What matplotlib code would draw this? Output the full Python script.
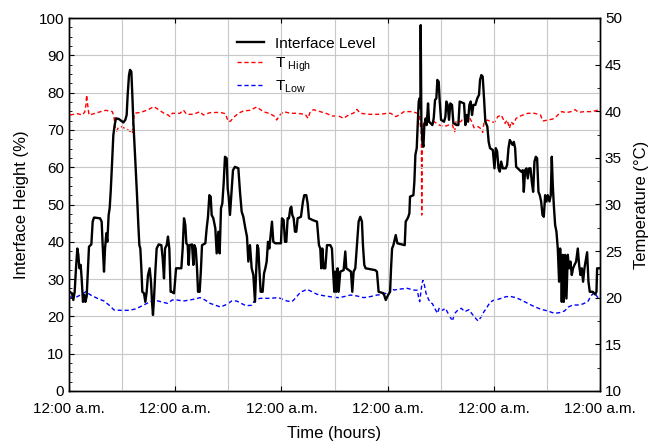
import matplotlib
matplotlib.use('Agg')
import matplotlib.pyplot as plt
from matplotlib.ticker import MultipleLocator

plt.rcParams['font.family'] = ['Liberation Sans', 'DejaVu Sans']
plt.rcParams['mathtext.fontset'] = 'custom'
plt.rcParams['mathtext.rm'] = 'Liberation Sans'

# ---- data --------------------------------------------------------------
# interface level (%) vs time (hours)
level_hours = [0.23, 0.68, 0.98, 1.28, 1.58, 1.88, 2.11, 2.34, 2.64, 2.86, 3.16, 3.47, 3.69, 3.99,
               4.29, 4.52, 5.05, 5.35, 5.65, 7.01, 7.38, 7.61, 7.91, 8.14, 8.44, 8.66, 8.96, 9.19,
               9.42, 9.64, 9.87, 10.02, 10.32, 10.62, 11.3, 11.83, 12.28, 12.73, 13.03, 13.26, 13.56,
               13.79, 14.09, 14.31, 14.54, 14.76, 15.07, 15.37, 15.67, 15.9, 16.12, 16.35, 16.57,
               16.95, 17.25, 17.55, 17.85, 18.23, 18.53, 18.76, 18.98, 19.21, 19.51, 19.81, 20.26,
               20.87, 21.17, 21.47, 21.7, 22.07, 22.37, 22.67, 22.97,
               23.2, 23.73, 23.96, 24.19, 25.39, 25.69, 25.99, 26.29, 26.52, 26.82, 27.05, 27.27,
               27.8, 28.1, 28.33, 28.63, 28.93, 29.16, 29.53, 29.83, 30.06, 30.81, 31.11, 31.41,
               31.72, 32.02, 32.24, 32.62, 33.07, 33.37, 33.75, 34.05, 34.35, 34.65, 34.95, 35.25,
               35.63, 35.86, 36.08, 36.38, 36.69, 37.06, 37.51, 38.27, 38.64, 39.02, 39.4, 39.85,
               40.22, 40.53, 40.9, 41.28, 41.66, 42.03, 42.26, 42.56, 42.79, 43.01, 43.31, 43.76,
               44.07, 44.37, 44.67, 44.97, 45.27, 45.57, 45.87, 46.17, 46.63,
               47.9, 48.13, 48.51, 48.81, 49.11, 49.41, 49.71, 50.01, 50.24, 50.46, 50.77, 51.07,
               51.37, 51.67, 52.42, 52.87, 53.17, 53.63, 53.93, 54.23, 55.13, 56.04, 56.49, 56.79,
               57.01, 57.24, 57.54, 57.92, 58.3, 59.05, 59.42, 59.65, 59.95, 60.18, 60.4, 60.7,
               60.93, 61.31, 62.06, 62.44, 62.66, 63.72, 64.02, 64.32, 64.7, 65.07, 65.45, 65.83,
               66.2, 66.43, 66.73, 67.03, 69.21, 69.59, 69.97, 71.1,
               71.58, 72.1, 72.56, 72.78, 73.01, 73.31, 73.84, 74.21, 75.87, 76.09, 76.62, 76.92,
               77.07, 77.83, 78.05, 78.28, 78.58, 78.81, 79.03, 79.26, 79.41, 79.48, 79.63, 79.86,
               80.09, 80.31, 80.61, 80.84, 81.14, 81.37, 82.12, 82.42, 82.72, 83.02, 83.25, 83.55,
               83.78, 84.08, 84.75, 85.06, 85.28, 85.58, 85.88, 86.18, 86.56, 86.86, 87.62, 87.99,
               88.29, 89.27, 89.57, 89.87, 90.18, 90.48, 90.78, 91.08, 91.38, 91.83, 92.28, 92.66,
               92.89, 93.19, 93.49, 93.79, 94.09, 94.54, 94.84, 95.15, 95.78, 96.15, 96.45, 96.76,
               97.06, 97.36, 97.66, 98.04, 98.71, 99.01, 99.32, 99.62, 100.22, 100.52, 100.82,
               101.05, 101.42, 102.18, 102.55, 102.78, 103.08, 103.38, 103.68, 103.98, 104.29,
               104.59, 104.89, 105.19, 105.49, 105.79, 106.09, 106.39, 106.7, 107.0, 107.3, 107.6,
               107.9, 108.2, 108.58, 108.88, 109.1, 109.33, 109.56, 109.86, 110.16, 110.46, 110.76,
               110.99, 111.21, 111.36, 111.59, 111.82, 112.12, 112.42, 112.72, 113.02, 113.32,
               113.62, 113.92, 114.23, 114.6, 114.98, 115.28, 115.58, 115.88, 116.18, 116.48,
               116.86, 117.09, 117.39, 117.69, 118.37, 118.89, 119.2, 119.35, 119.87]
level_pct = [26.5, 26.2, 24.4, 26.6, 32.9, 38.2, 36.5, 32.9, 33.8, 30.2, 23.9, 25.7, 23.9, 25.3,
             32.9, 38.7, 39.3, 45.4, 46.5, 46.3, 45.4, 39.1, 32.0, 38.2, 42.3, 40.0, 47.2, 49.0,
             53.4, 58.8, 65.1, 68.6, 71.3, 73.1, 72.9, 72.4, 72.0, 72.7, 74.0, 79.4, 84.7,
             86.1, 85.6, 79.4, 72.2, 66.8, 59.7, 52.5, 44.5, 39.1, 38.2, 32.9, 26.6,
             26.2, 23.9, 26.6, 31.1, 32.9, 29.3, 23.9, 20.4, 24.8, 32.0, 38.2, 39.3,
             39.1, 35.6, 30.2, 38.2, 39.1, 41.4, 38.2, 26.6,
             26.6, 26.2, 29.3, 32.9, 32.9, 38.2, 46.3, 44.5, 39.6, 39.1, 33.8, 39.1,
             39.3, 33.8, 39.1, 38.2, 32.9, 26.6, 26.6, 32.9, 39.1, 39.6, 43.6, 46.7,
             52.5, 52.1, 47.2, 46.3, 43.6, 36.9, 42.7, 36.9, 49.0, 50.3, 55.7, 62.8,
             62.4, 54.3, 52.1, 47.2, 52.5, 59.2, 60.1, 59.7, 53.4, 48.1, 46.7, 43.6,
             41.4, 34.7, 39.1, 32.9, 31.1, 23.9, 31.1, 39.1, 38.2, 32.9, 26.6, 26.6,
             31.5, 32.9, 34.7, 40.0, 38.2, 41.8, 45.4, 40.0, 39.6,
             39.6, 46.3, 45.8, 40.0, 40.0, 46.3, 46.3, 49.0, 49.4, 47.2, 46.3, 42.7,
             42.7, 46.3, 46.7, 50.8, 52.5, 52.5, 50.3, 46.3, 45.8, 45.4, 39.1, 38.2,
             32.9, 38.2, 32.9, 32.9, 39.1, 39.1, 38.2, 32.9, 26.6, 32.0, 26.6, 32.9,
             26.6, 32.0, 32.4, 37.4, 32.9, 32.0, 26.6, 32.0, 32.9, 39.1, 45.4, 46.7,
             45.4, 39.1, 33.8, 32.9, 32.4, 32.0, 26.6, 26.2,
             24.4, 25.7, 26.6, 32.9, 38.2, 39.1, 41.8, 39.6, 39.1, 45.4, 46.5, 47.6,
             52.1, 52.5, 56.1, 63.3, 65.1, 71.3, 77.6, 78.5, 75.8, 98.1, 72.2, 66.8,
             65.5, 71.3, 73.1, 71.3, 77.1, 72.2, 71.3, 73.1, 78.0, 78.5, 83.4, 82.9,
             77.6, 72.7, 72.2, 73.5, 77.6, 76.7, 72.7, 77.1, 76.7, 71.8, 71.3, 71.3,
             77.6, 77.1, 71.3, 74.0, 72.2, 76.7, 77.6, 74.0, 76.7, 76.7, 78.5, 79.4,
             83.4, 84.7, 84.3, 78.5, 72.2, 70.9, 66.8, 65.1, 64.6, 59.7, 65.1, 64.2,
             59.7, 58.8, 61.5, 59.7, 59.7, 60.6, 65.1, 67.3, 66.0, 66.8, 65.1,
             60.1, 59.7, 58.8, 59.2, 53.4, 59.2, 59.7, 57.0, 59.7, 59.7,
             56.1, 53.4, 61.5, 62.8, 62.4, 53.4, 52.5, 50.8, 47.2, 46.7, 52.5,
             50.8, 52.5, 50.8, 52.5, 62.8, 55.2, 49.9, 44.5, 42.7, 38.2, 29.3,
             38.2, 32.9, 23.9, 36.5, 23.9, 36.5, 24.8, 36.5, 32.9, 34.7,
             31.1, 32.9, 33.8, 34.7, 38.2, 33.8, 31.1, 32.9, 29.3, 32.9,
             35.6, 37.2, 29.3, 26.6, 26.6, 25.9, 26.6, 32.9, 32.9]

# high temperature probe (deg C)
thigh_hours = [0.23, 1.88, 3.01, 3.54, 3.84, 3.99, 4.22, 4.52, 5.65, 7.16, 8.29, 9.79, 10.17,
               10.4, 10.77, 11.15, 11.83, 12.58, 13.33, 13.94, 14.31, 14.54, 14.76, 16.2, 17.7,
               19.21, 20.34, 21.47, 22.37, 22.83, 23.35, 23.58, 25.09, 25.84, 26.6, 28.1, 29.61,
               30.36, 31.87, 34.13, 35.33, 36.01, 36.53, 37.14, 38.27, 39.4, 40.9, 42.41, 43.91,
               45.42, 46.55, 46.93, 47.68, 48.51, 50.01, 51.52, 53.4, 54.0, 54.53, 55.28, 56.79,
               58.3, 59.42, 60.93, 62.06, 63.19, 64.32, 65.07, 65.83, 68.08, 70.34, 71.85, 72.71,
               73.84, 74.59, 75.72, 77.6, 78.73, 79.18, 79.48, 79.63, 79.71, 79.86, 80.24, 81.37,
               82.5, 83.62, 84.75, 85.88, 86.64, 87.16, 87.46, 88.52, 89.42, 90.4, 90.93, 91.53,
               92.44, 93.19, 93.49, 93.79, 94.54, 95.4, 96.15, 96.91, 97.66, 98.11, 98.56,
               99.01, 99.54, 99.92, 100.37, 101.05, 102.18, 103.68, 105.19, 106.54, 107.07,
               108.2, 109.33, 110.08, 110.84, 111.36, 112.34, 113.47, 114.38, 115.13, 116.48,
               117.99, 119.12, 119.87]
thigh_temp = [39.6, 39.74, 39.6, 39.9, 40.7, 41.74, 40.7, 39.6, 39.74, 39.96, 40.1, 39.96, 39.42,
              38.35, 37.88, 38.24, 38.35, 38.17, 37.99, 37.81, 37.63, 38.88, 39.78, 39.88, 40.13,
              40.49, 40.13, 39.78, 39.6, 39.42, 39.78, 39.78, 39.78, 40.13, 39.67, 39.67, 39.96,
              39.6, 39.85, 39.88, 39.74, 38.88, 38.95, 39.31, 39.78, 40.03, 40.1, 40.46, 39.96,
              39.74, 39.42, 39.06, 39.6, 39.96, 39.78, 39.78, 39.67, 39.24, 39.96, 40.17, 39.96,
              39.74, 39.49, 39.49, 39.24, 39.6, 39.81, 40.2, 39.78, 39.67, 39.67, 39.78, 39.78,
              39.42, 39.6, 39.96, 39.96, 39.78, 39.6, 38.17, 37.45, 28.87, 38.17, 38.88, 38.81,
              38.88, 38.53, 38.35, 38.53, 38.53, 37.81, 38.88, 38.88, 39.42, 39.42, 38.95, 38.24,
              38.35, 38.1, 37.74, 38.81, 39.06, 38.88, 38.81, 39.42, 39.6, 39.17, 38.7,
              39.06, 38.17, 38.88, 38.6, 39.24, 39.53, 39.78, 39.78, 39.6, 38.95,
              39.06, 39.17, 39.42, 39.78, 39.96, 39.85, 39.96, 40.17, 39.88, 39.96,
              39.96, 40.06, 40.2]

# low temperature probe (deg C)
tlow_hours = [0.23, 1.13, 2.26, 3.01, 3.77, 4.9, 6.4, 7.91, 9.04, 10.17, 11.68, 13.56, 15.07,
              16.57, 18.08, 19.21, 20.72, 22.22, 23.35, 24.34, 25.84, 27.35, 28.48, 29.61, 30.74,
              31.87, 33.37, 34.28, 35.63, 36.76, 37.89, 39.02, 40.0, 41.28, 42.03, 43.16, 45.42,
              47.3, 48.13, 49.26, 50.39, 51.14, 52.27, 53.78, 54.91, 56.04, 57.54, 59.42, 60.93,
              62.44, 63.57, 65.07, 66.58, 68.08, 69.59, 71.1, 71.58, 72.1, 72.71, 73.46, 74.97,
              76.47, 77.83, 78.73, 79.03, 79.26, 79.48, 79.78, 80.01, 80.31, 80.69, 81.14, 81.59,
              82.12, 82.65, 83.25, 83.7, 84.38, 85.06, 85.66, 86.11, 86.64, 87.16, 87.92, 88.67,
              89.42, 90.4, 91.15, 91.91, 92.44, 93.19, 93.79, 94.54, 95.15, 95.9, 96.53, 97.66,
              98.79, 99.92, 101.05, 102.18, 103.68, 105.19, 106.7, 108.2, 109.71, 110.84, 111.97,
              112.87, 113.85, 114.98, 116.11, 117.24, 117.99, 118.74, 119.35, 119.87]
tlow_temp = [20.12, 19.94, 20.22, 20.37, 20.65, 20.29, 19.94, 19.65, 19.22, 18.69, 18.65, 18.65,
             18.8, 19.15, 19.51, 19.76, 19.58, 19.4, 19.76, 19.76, 19.65, 19.76, 19.87, 20.01,
             19.76, 19.4, 19.15, 19.01, 19.29, 19.65, 19.65, 19.37, 19.15, 19.19, 19.76, 19.94,
             19.94, 20.01, 19.87, 19.65, 19.58, 19.94, 20.58, 20.9, 20.65, 20.37, 20.22, 20.08,
             20.01, 20.15, 20.29, 20.19, 20.01, 20.12, 20.29, 20.37, 20.47, 20.72, 21.08, 20.83,
             20.94, 21.01, 20.83, 20.8, 19.94, 19.58, 20.47, 21.55, 21.9, 21.37, 20.47, 19.94,
             19.51, 19.37, 18.87, 18.33, 18.94, 18.65, 18.87, 18.33, 17.97, 17.51, 18.33, 18.69,
             18.87, 18.51, 18.72, 18.22, 17.79, 17.51, 17.97, 18.51, 19.04, 19.51, 19.72, 19.76,
             19.94, 20.12, 20.12, 20.01, 19.76, 19.4, 19.04, 18.76, 18.58, 18.33, 18.4, 18.58,
             19.01, 19.22, 19.22, 19.33, 19.58, 20.22, 20.58, 20.12, 19.87]

day_ticks = [0, 24, 48, 72, 96, 120]
day_labels = ['12:00 a.m.'] * len(day_ticks)

# ---- plot ---------------------------------------------------------------
fig = plt.figure(figsize=(6.48, 4.43), dpi=100)
ax = fig.add_axes([69 / 648, 1 - 391 / 443, 531 / 648, 373 / 443])
ax2 = ax.twinx()
ax.set_zorder(ax2.get_zorder() + 1)
ax.patch.set_visible(False)

l1, = ax.plot(level_hours, level_pct, color='black', lw=1.7, label='Interface Level')
l2, = ax2.plot(thigh_hours, thigh_temp, color='red', lw=1.0, linestyle=(0, (3, 2)),
               label=r'$\mathregular{T_{\ High}}$')
l3, = ax2.plot(tlow_hours, tlow_temp, color='blue', lw=1.0, linestyle=(0, (3, 2)),
               label=r'$\mathregular{T_{Low}}$')

ax.set_xlim(0, 120)
ax.set_ylim(0, 100)
ax2.set_ylim(10, 50)

ax.set_xticks(day_ticks)
ax.set_xticklabels(day_labels)
ax.xaxis.set_minor_locator(MultipleLocator(12))
ax.yaxis.set_major_locator(MultipleLocator(10))
ax.yaxis.set_minor_locator(MultipleLocator(2.5))
ax2.yaxis.set_major_locator(MultipleLocator(5))
ax2.yaxis.set_minor_locator(MultipleLocator(2.5))

ax.grid(True, which='major', axis='y', color='#c8c8c8', lw=0.8)
ax.grid(True, which='both', axis='x', color='#c8c8c8', lw=0.8)
ax.set_axisbelow(True)

ax.tick_params(axis='both', which='both', direction='in', labelsize=11, top=True)
ax.tick_params(axis='x', which='major', pad=8)
ax.tick_params(axis='x', which='minor', length=0)
ax.tick_params(axis='y', which='minor', length=2)
ax2.tick_params(axis='y', which='both', direction='in', labelsize=11)
ax2.tick_params(axis='y', which='minor', length=2)

ax.set_xlabel('Time (hours)', fontsize=12, labelpad=7)
ax.set_ylabel('Interface Height (%)', fontsize=12, labelpad=7)
ax2.set_ylabel('Temperature (\u00b0C)', fontsize=12, labelpad=9)

for a in (ax, ax2):
    for s in a.spines.values():
        s.set_linewidth(1.0)

ax.legend(handles=[l1, l2, l3], loc='upper left', bbox_to_anchor=(0.304, 0.966),
          frameon=False, fontsize=11, handlelength=1.8, labelspacing=0.3,
          handletextpad=0.7, borderaxespad=0)

plt.savefig('out.png', dpi=100)
plt.close()
